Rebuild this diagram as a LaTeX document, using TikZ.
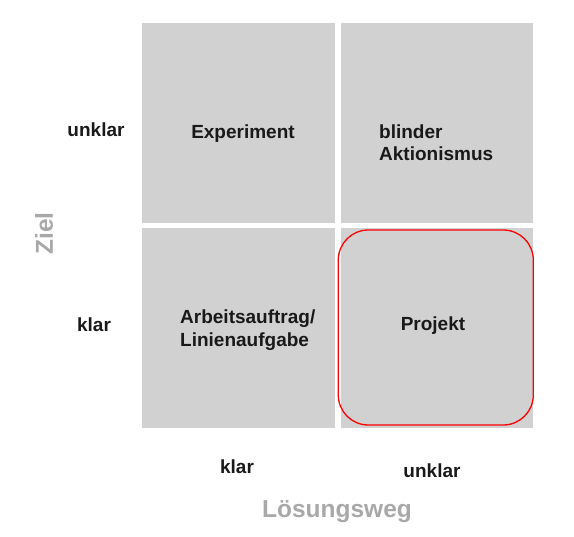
\documentclass[tikz,border=0pt]{standalone}
\usepackage{fontspec}
\setmainfont{Liberation Sans}
\begin{document}
\begin{tikzpicture}[x=1pt,y=-1pt,
  lbl/.style={font=\fontsize{19}{22.5}\selectfont\bfseries, text=black!90, inner sep=0pt},
  axis/.style={font=\fontsize{24.5}{28}\selectfont\bfseries, text=axisgray, inner sep=0pt}]
\definecolor{cellgray}{HTML}{D1D1D1}
\definecolor{axisgray}{HTML}{A8A8A8}
\useasboundingbox (0,0) rectangle (574,537);
\fill[cellgray] (141.7,23.3) rectangle (335,223);
\fill[cellgray] (340.7,23.3) rectangle (532.7,223);
\fill[cellgray] (141.7,228.3) rectangle (335,427.7);
\fill[cellgray] (340.7,228.3) rectangle (532.7,427.7);
\draw[red, line width=1.3pt, rounded corners=30pt] (338.3,230) rectangle (533.3,425);
\node[lbl] (exp) at (243,133.5) {Experiment};
\node[lbl, align=left, anchor=west] (bl) at (379,142.5) {blinder\\Aktionismus};
\node[lbl, align=left, anchor=west] (arb) at (180,330) {Arbeitsauftrag/\\Linienaufgabe};
\node[lbl] (proj) at (433,325.5) {Projekt};
\node[lbl] (yu) at (96,129.5) {unklar};
\node[lbl] (yk) at (94,324.5) {klar};
\node[lbl] (xk) at (237,466.5) {klar};
\node[lbl] (xu) at (432,470.5) {unklar};
\node[axis, rotate=90] (ziel) at (44,233.5) {Ziel};
\node[axis] (lw) at (337,512) {Lösungsweg};
\end{tikzpicture}
\end{document}
